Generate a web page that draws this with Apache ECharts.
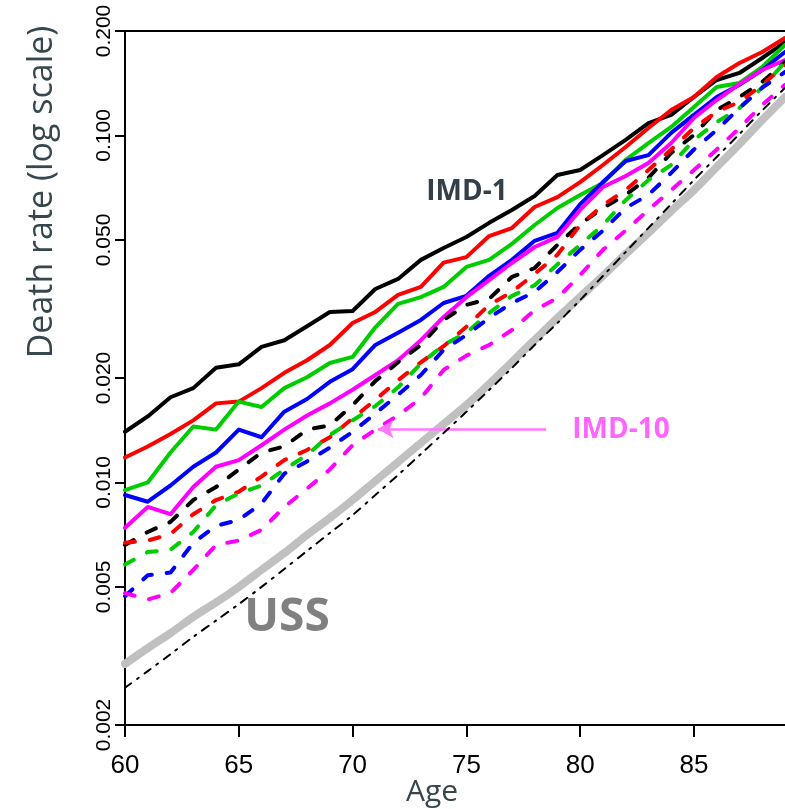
<!DOCTYPE html>
<html>
<head>
<meta charset="utf-8">
<script src="https://cdn.jsdelivr.net/npm/echarts@6/dist/echarts.min.js"></script>
<style>
html,body{margin:0;padding:0;background:#fff;}
#chart{width:785px;height:809px;}
</style>
</head>
<body>
<div id="chart"></div>
<script>
// Ages (x)
var AGES = [60,61,62,63,64,65,66,67,68,69,70,71,72,73,74,75,76,77,78,79,80,81,82,83,84,85,86,87,88,89];
// Death rates by IMD decile (1 = most deprived)
var IMD1 = [0.0140,0.0155,0.0176,0.0187,0.0214,0.0219,0.0246,0.0257,0.0282,0.0310,0.0312,0.0361,0.0386,0.0438,0.0474,0.0510,0.0560,0.0610,0.0669,0.0769,0.0795,0.0878,0.0971,0.1086,0.1146,0.1291,0.1445,0.1514,0.1672,0.1859];
var IMD2 = [0.0118,0.0127,0.0138,0.0151,0.0169,0.0171,0.0187,0.0207,0.0225,0.0249,0.0288,0.0310,0.0347,0.0366,0.0430,0.0446,0.0513,0.0541,0.0622,0.0664,0.0734,0.0822,0.0926,0.1051,0.1184,0.1291,0.1474,0.1617,0.1740,0.1909];
var IMD3 = [0.0095,0.0100,0.0122,0.0145,0.0142,0.0171,0.0165,0.0187,0.0201,0.0221,0.0230,0.0280,0.0327,0.0342,0.0366,0.0418,0.0438,0.0487,0.0552,0.0618,0.0674,0.0729,0.0850,0.0951,0.1058,0.1208,0.1380,0.1417,0.1575,0.1823];
var IMD4 = [0.0092,0.0088,0.0098,0.0111,0.0122,0.0142,0.0135,0.0160,0.0174,0.0195,0.0212,0.0249,0.0270,0.0294,0.0329,0.0345,0.0394,0.0438,0.0497,0.0524,0.0634,0.0734,0.0844,0.0878,0.1017,0.1146,0.1291,0.1399,0.1544,0.1740];
var IMD5 = [0.0074,0.0085,0.0081,0.0097,0.0111,0.0116,0.0128,0.0142,0.0156,0.0169,0.0185,0.0204,0.0225,0.0257,0.0300,0.0342,0.0383,0.0429,0.0477,0.0510,0.0610,0.0710,0.0764,0.0833,0.0951,0.1123,0.1265,0.1407,0.1544,0.1649];
var IMD6 = [0.0066,0.0072,0.0077,0.0089,0.0097,0.0109,0.0122,0.0127,0.0142,0.0146,0.0167,0.0196,0.0222,0.0249,0.0294,0.0325,0.0338,0.0391,0.0415,0.0484,0.0556,0.0618,0.0674,0.0755,0.0890,0.1003,0.1184,0.1291,0.1426,0.1628];
var IMD7 = [0.0067,0.0068,0.0071,0.0081,0.0089,0.0094,0.0104,0.0116,0.0124,0.0135,0.0153,0.0173,0.0197,0.0222,0.0247,0.0281,0.0325,0.0354,0.0399,0.0453,0.0552,0.0630,0.0696,0.0795,0.0911,0.1051,0.1169,0.1250,0.1399,0.1596];
var IMD8 = [0.0058,0.0063,0.0064,0.0072,0.0086,0.0093,0.0098,0.0109,0.0120,0.0137,0.0151,0.0166,0.0188,0.0220,0.0249,0.0270,0.0308,0.0345,0.0370,0.0425,0.0484,0.0552,0.0651,0.0744,0.0822,0.0971,0.1093,0.1200,0.1373,0.1628];
var IMD9 = [0.0047,0.0054,0.0055,0.0067,0.0075,0.0078,0.0087,0.0106,0.0115,0.0126,0.0140,0.0158,0.0179,0.0204,0.0241,0.0266,0.0298,0.0329,0.0354,0.0404,0.0468,0.0532,0.0618,0.0674,0.0780,0.0911,0.1037,0.1200,0.1373,0.1524];
var IMD10 = [0.0048,0.0046,0.0048,0.0056,0.0066,0.0068,0.0073,0.0085,0.0096,0.0109,0.0128,0.0142,0.0156,0.0175,0.0211,0.0232,0.0249,0.0275,0.0314,0.0340,0.0396,0.0468,0.0532,0.0610,0.0696,0.0795,0.0911,0.1051,0.1224,0.1399];
// Reference curves
var USS = [0.00300,0.00333,0.00368,0.00410,0.00451,0.00500,0.00560,0.00626,0.00706,0.00790,0.00890,0.01010,0.01145,0.01299,0.01474,0.01672,0.01921,0.02224,0.02574,0.02978,0.03425,0.03937,0.04554,0.05239,0.06056,0.06963,0.08112,0.09452,0.1108,0.1291];
var REF2 = [0.00256,0.00286,0.00320,0.00359,0.00400,0.00446,0.00500,0.00563,0.00635,0.00715,0.00805,0.00920,0.01051,0.01208,0.01388,0.01598,0.01847,0.02137,0.02490,0.02881,0.03355,0.03937,0.04615,0.05414,0.06342,0.07440,0.08671,0.1010,0.1181,0.1371];
// Tick labels
var X_TICKS = [60,65,70,75,80,85];
var Y_TICKS = [0.002,0.005,0.010,0.020,0.050,0.100,0.200];
// Arrow annotation (data coordinates)
var ARROW_FROM = [78.5, 0.01426];
var ARROW_TO = [71.1, 0.01426];

var chart = echarts.init(document.getElementById('chart'), null, {renderer:'canvas'});
function pairs(arr){ return AGES.map(function(a,i){ return [a, arr[i]]; }); }
var tickFont = "'Liberation Sans Narrow','Arial Narrow','Liberation Sans',sans-serif";
var titleFont = "'Open Sans','Noto Sans',sans-serif";
var DASH = [10, 15];
function line(name, arr, color, dashed){
  return {
    name: name, type: 'line', xAxisIndex: 0, yAxisIndex: 0,
    data: pairs(arr), showSymbol: false, symbol: 'none', silent: true,
    lineStyle: {color: color, width: 4, type: dashed ? DASH : 'solid', cap: 'round', join: 'round'},
    z: 3
  };
}
var series = [
  line('IMD-1', IMD1, '#000000', false),
  line('IMD-2', IMD2, '#ff0000', false),
  line('IMD-3', IMD3, '#00cd00', false),
  line('IMD-4', IMD4, '#0000ff', false),
  line('IMD-5', IMD5, '#ff00ff', false),
  line('IMD-6', IMD6, '#000000', true),
  line('IMD-7', IMD7, '#ff0000', true),
  line('IMD-8', IMD8, '#00cd00', true),
  line('IMD-9', IMD9, '#0000ff', true),
  line('IMD-10', IMD10, '#ff00ff', true),
  {
    name: 'USS', type: 'line', data: pairs(USS), showSymbol: false, symbol: 'none', silent: true,
    smooth: 0.3, lineStyle: {color: '#c0c0c0', width: 8, cap: 'round'}, z: 4
  },
  {
    name: 'Ref', type: 'line', data: pairs(REF2), showSymbol: false, symbol: 'none', silent: true,
    smooth: 0.3, lineStyle: {color: '#000000', width: 2, type: [8, 7, 2, 7], cap: 'round'}, z: 5,
    markLine: {
      silent: true, symbol: ['none', 'arrow'], symbolSize: [14, 16],
      label: {show: false},
      lineStyle: {color: '#ff77ff', width: 2.5, type: 'solid'},
      data: [[{coord: ARROW_FROM}, {coord: ARROW_TO}]]
    }
  }
];

chart.setOption({
  animation: false,
  backgroundColor: '#ffffff',
  grid: {left: 125, top: 31, width: 661, height: 694, containLabel: false},
  xAxis: [{
    type: 'value', position: 'bottom', min: 60, max: 89,
    axisLine: {show: true, lineStyle: {color: '#000', width: 2}},
    axisTick: {show: true, length: 12, customValues: X_TICKS, lineStyle: {color: '#000', width: 2}},
    axisLabel: {show: true, customValues: X_TICKS, margin: 28, fontFamily: tickFont, fontSize: 26, color: '#000'},
    splitLine: {show: false}
  }, {
    type: 'value', position: 'top', min: 60, max: 89,
    axisLine: {show: true, onZero: false, lineStyle: {color: '#000', width: 2}},
    axisTick: {show: false}, axisLabel: {show: false}, splitLine: {show: false}
  }],
  yAxis: [{
    type: 'log', logBase: 10, min: 0.002, max: 0.2, position: 'left',
    axisLine: {show: true, lineStyle: {color: '#000', width: 2}},
    axisTick: {show: false}, axisLabel: {show: false}, splitLine: {show: false}
  }, {
    type: 'value', position: 'left', offset: 0,
    min: Math.log10(Y_TICKS[0]), max: Math.log10(Y_TICKS[Y_TICKS.length - 1]),
    axisLine: {show: false},
    axisTick: {show: true, length: 10, customValues: Y_TICKS.map(Math.log10), lineStyle: {color: '#000', width: 2}},
    axisLabel: {
      show: true, customValues: Y_TICKS.map(Math.log10), rotate: 90, margin: 10,
      fontFamily: tickFont, fontSize: 21, color: '#000',
      formatter: function(v){ return Math.pow(10, v).toFixed(3); }
    },
    splitLine: {show: false}
  }],
  graphic: [
    {type: 'text', x: 42, y: 192, rotation: Math.PI / 2,
     style: {text: 'Death rate (log scale)', fontFamily: titleFont, fontSize: 34, fill: '#37474f', textAlign: 'center', textVerticalAlign: 'middle'}},
    {type: 'text', x: 432, y: 792,
     style: {text: 'Age', fontFamily: titleFont, fontSize: 30, fill: '#37474f', textAlign: 'center', textVerticalAlign: 'middle'}},
    {type: 'text', x: 467, y: 192, z: 10,
     style: {text: 'IMD-1', fontFamily: titleFont, fontWeight: 'bold', fontSize: 28, fill: '#333f48', textAlign: 'center', textVerticalAlign: 'middle'}},
    {type: 'text', x: 621, y: 430, z: 10,
     style: {text: 'IMD-10', fontFamily: titleFont, fontWeight: 'bold', fontSize: 28, fill: '#ff66ff', textAlign: 'center', textVerticalAlign: 'middle'}},
    {type: 'text', x: 287, y: 618, z: 10,
     style: {text: 'USS', fontFamily: titleFont, fontWeight: 'bold', fontSize: 46, fill: '#808080', textAlign: 'center', textVerticalAlign: 'middle'}}
  ],
  series: series
});
</script>
</body>
</html>
